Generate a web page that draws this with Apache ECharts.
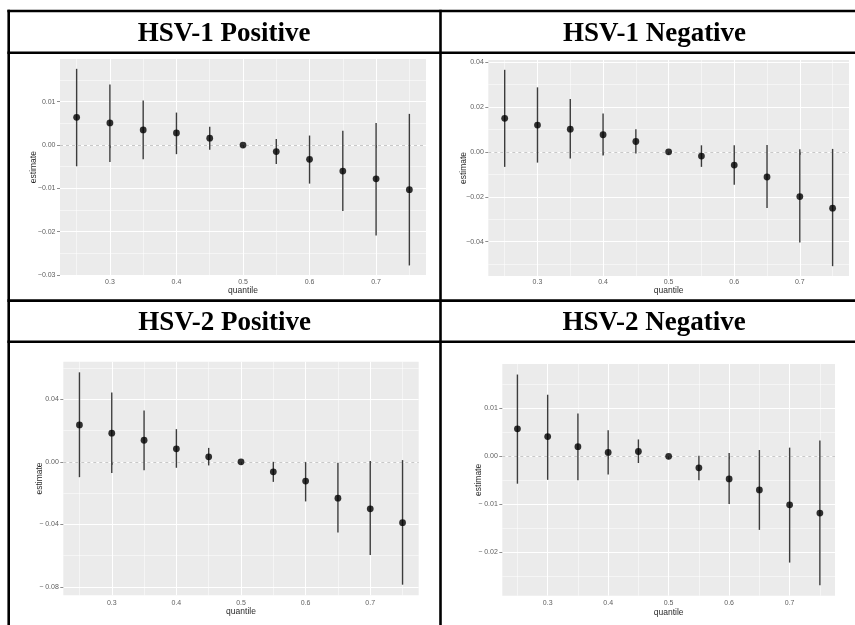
<!DOCTYPE html>
<html>
<head>
<meta charset="utf-8">
<style>
  html, body { margin: 0; padding: 0; background: #ffffff; }
  #chart { width: 855px; height: 625px; }
</style>
<script src="https://cdn.jsdelivr.net/npm/echarts@6/dist/echarts.min.js"></script>
</head>
<body>
<div id="chart"></div>
<script>
// ---- data ----
const quantiles = [0.25, 0.30, 0.35, 0.40, 0.45, 0.50, 0.55, 0.60, 0.65, 0.70, 0.75];
const xTicks = [0.3, 0.4, 0.5, 0.6, 0.7];
const xMinor = [0.25, 0.35, 0.45, 0.55, 0.65, 0.75];

const panelTitles = ['HSV-1 Positive', 'HSV-1 Negative', 'HSV-2 Positive', 'HSV-2 Negative'];

// HSV-1 Positive
const hsv1PosEst  = [0.0064, 0.0051, 0.0035, 0.0028, 0.0016, 0, -0.0015, -0.0033, -0.0060, -0.0078, -0.0103];
const hsv1PosLow  = [-0.0049, -0.0039, -0.0033, -0.0021, -0.0011, 0, -0.0044, -0.0089, -0.0152, -0.0209, -0.0278];
const hsv1PosHigh = [0.0176, 0.0140, 0.0103, 0.0075, 0.0042, 0, 0.0014, 0.0022, 0.0033, 0.0051, 0.0072];
const hsv1PosYTicks = [-0.03, -0.02, -0.01, 0.00, 0.01];
const hsv1PosYMinor = [-0.025, -0.015, -0.005, 0.005, 0.015];

// HSV-1 Negative
const hsv1NegEst  = [0.0149, 0.0119, 0.0101, 0.0076, 0.0046, 0, -0.0019, -0.0059, -0.0112, -0.0199, -0.0251];
const hsv1NegLow  = [-0.0067, -0.0048, -0.0030, -0.0016, -0.0007, 0, -0.0067, -0.0147, -0.0250, -0.0404, -0.0509];
const hsv1NegHigh = [0.0365, 0.0287, 0.0235, 0.0171, 0.0100, 0, 0.0029, 0.0029, 0.0030, 0.0011, 0.0013];
const hsv1NegYTicks = [-0.04, -0.02, 0.00, 0.02, 0.04];
const hsv1NegYMinor = [-0.05, -0.03, -0.01, 0.01, 0.03];

// HSV-2 Positive
const hsv2PosEst  = [0.0236, 0.0183, 0.0138, 0.0083, 0.0032, 0, -0.0064, -0.0123, -0.0232, -0.0300, -0.0389];
const hsv2PosLow  = [-0.0098, -0.0072, -0.0053, -0.0038, -0.0023, 0, -0.0128, -0.0253, -0.0451, -0.0596, -0.0785];
const hsv2PosHigh = [0.0572, 0.0443, 0.0328, 0.0209, 0.0089, 0, 0.0000, -0.0002, -0.0006, 0.0006, 0.0011];
const hsv2PosYTicks = [-0.08, -0.04, 0.00, 0.04];
const hsv2PosYMinor = [-0.06, -0.02, 0.02, 0.06];

// HSV-2 Negative
const hsv2NegEst  = [0.0057, 0.0041, 0.0020, 0.0008, 0.0010, 0, -0.0024, -0.0047, -0.0070, -0.0101, -0.0118];
const hsv2NegLow  = [-0.0057, -0.0049, -0.0050, -0.0038, -0.0014, 0, -0.0050, -0.0099, -0.0153, -0.0221, -0.0268];
const hsv2NegHigh = [0.0170, 0.0128, 0.0089, 0.0054, 0.0035, 0, 0.0001, 0.0007, 0.0013, 0.0018, 0.0033];
const hsv2NegYTicks = [-0.02, -0.01, 0.00, 0.01];
const hsv2NegYMinor = [-0.025, -0.015, -0.005, 0.005, 0.015];

const panels = [
  { est: hsv1PosEst, low: hsv1PosLow, high: hsv1PosHigh, yTicks: hsv1PosYTicks, yMinor: hsv1PosYMinor },
  { est: hsv1NegEst, low: hsv1NegLow, high: hsv1NegHigh, yTicks: hsv1NegYTicks, yMinor: hsv1NegYMinor },
  { est: hsv2PosEst, low: hsv2PosLow, high: hsv2PosHigh, yTicks: hsv2PosYTicks, yMinor: hsv2PosYMinor },
  { est: hsv2NegEst, low: hsv2NegLow, high: hsv2NegHigh, yTicks: hsv2NegYTicks, yMinor: hsv2NegYMinor }
];

// ---- layout ----
const layout = [
  { grid: { left: 60,    top: 59,    width: 366,   height: 216.3 }, head: [224,   33.7],  yGap: 22, xGap: 10.5, xMargin: 3, yMargin: 4.5, spaced: false },
  { grid: { left: 488.3, top: 60,    width: 360.7, height: 216   }, head: [654.5, 33.7],  yGap: 20, xGap: 10.5, xMargin: 3, yMargin: 4.5, spaced: false },
  { grid: { left: 63.3,  top: 361.7, width: 355.4, height: 233.6 }, head: [224.5, 323.3], yGap: 19, xGap: 12,   xMargin: 4, yMargin: 4.5, spaced: true },
  { grid: { left: 502.3, top: 364,   width: 332.7, height: 231.7 }, head: [654.2, 323.3], yGap: 19, xGap: 12,   xMargin: 4, yMargin: 4.5, spaced: true }
];

const SANS = 'Liberation Sans, Arial, sans-serif';
const tickLabelStyle = { fontSize: 7, color: '#606060', fontFamily: SANS };
const nameStyle = { fontSize: 8.5, color: '#2a2a2a', fontFamily: SANS };

const option = { animation: false, grid: [], xAxis: [], yAxis: [], series: [], graphic: [] };

panels.forEach((p, i) => {
  const L = layout[i];
  // ggplot-style 5% expansion of the data range
  const lo = Math.min(...p.low), hi = Math.max(...p.high);
  const pad = (hi - lo) * 0.05;
  const yMin = lo - pad, yMax = hi + pad;
  const xMin = 0.225, xMax = 0.775;

  const fmtY = v => {
    const s = Math.abs(v).toFixed(2);
    if (v < -1e-9) return (L.spaced ? '\u2212 ' : '\u2212') + s;
    return s;
  };

  option.grid.push(Object.assign({ show: true, backgroundColor: '#ebebeb', borderWidth: 0, containLabel: false }, L.grid));

  // major x axis
  option.xAxis.push({
    type: 'value', gridIndex: i, min: xMin, max: xMax, position: 'bottom',
    axisLine: { show: false },
    axisTick: { show: true, length: 3, customValues: xTicks, lineStyle: { color: '#707070', width: 0.8 } },
    axisLabel: { customValues: xTicks, formatter: v => v.toFixed(1), margin: L.xMargin, ...tickLabelStyle },
    splitLine: { show: true, lineStyle: { color: '#ffffff', width: 1.1 } },
    name: 'quantile', nameLocation: 'middle', nameGap: L.xGap, nameMoveOverlap: false, nameTextStyle: nameStyle
  });
  // minor x grid
  option.xAxis.push({
    type: 'value', gridIndex: i, min: xMin, max: xMax, position: 'top',
    axisLine: { show: false },
    axisTick: { show: false, customValues: xMinor },
    axisLabel: { show: false },
    splitLine: { show: true, lineStyle: { color: '#ffffff', width: 0.5 } }
  });
  // major y axis
  option.yAxis.push({
    type: 'value', gridIndex: i, min: yMin, max: yMax, position: 'left',
    axisLine: { show: false },
    axisTick: { show: true, length: 3, customValues: p.yTicks, lineStyle: { color: '#707070', width: 0.8 } },
    axisLabel: { customValues: p.yTicks, formatter: fmtY, margin: L.yMargin, ...tickLabelStyle },
    splitLine: { show: true, lineStyle: { color: '#ffffff', width: 1.1 } },
    name: 'estimate', nameLocation: 'middle', nameRotate: 90, nameGap: L.yGap, nameMoveOverlap: false,
    nameTextStyle: nameStyle
  });
  // minor y grid
  option.yAxis.push({
    type: 'value', gridIndex: i, min: yMin, max: yMax, position: 'right',
    axisLine: { show: false },
    axisTick: { show: false, customValues: p.yMinor },
    axisLabel: { show: false },
    splitLine: { show: true, lineStyle: { color: '#ffffff', width: 0.5 } }
  });

  // confidence intervals
  option.series.push({
    type: 'custom', xAxisIndex: 2 * i, yAxisIndex: 2 * i, z: 2,
    data: quantiles.map((q, k) => [q, p.low[k], p.high[k]]),
    encode: { x: 0, y: [1, 2] },
    renderItem: (params, api) => {
      const a = api.coord([api.value(0), api.value(1)]);
      const b = api.coord([api.value(0), api.value(2)]);
      return { type: 'line', shape: { x1: a[0], y1: a[1], x2: b[0], y2: b[1] },
               style: { stroke: '#3c3c3c', lineWidth: 1.4 } };
    },
    markLine: {
      silent: true, symbol: 'none', z: 1, label: { show: false },
      lineStyle: { type: [3, 3], color: '#c2c2c2', width: 0.9 },
      data: [{ yAxis: 0 }]
    }
  });
  // point estimates
  option.series.push({
    type: 'scatter', xAxisIndex: 2 * i, yAxisIndex: 2 * i, z: 3,
    symbolSize: 6.8, itemStyle: { color: '#000000' },
    data: quantiles.map((q, k) => [q, p.est[k]])
  });

  // panel header
  option.graphic.push({
    type: 'text', x: L.head[0], y: L.head[1], z: 10,
    style: { text: panelTitles[i], font: 'bold 27px "Liberation Serif", "Times New Roman", serif',
             fill: '#000000', align: 'center', verticalAlign: 'middle' }
  });
});

// table rules
const rule = (x1, y1, x2, y2) => ({
  type: 'line', z: 10, shape: { x1, y1, x2, y2 }, style: { stroke: '#000000', lineWidth: 2.6 }
});
option.graphic.push(
  rule(7.4, 11, 855, 11),
  rule(7.4, 52.8, 855, 52.8),
  rule(7.4, 300.6, 855, 300.6),
  rule(7.4, 341.8, 855, 341.8),
  rule(8.7, 9.7, 8.7, 625),
  rule(440.5, 9.7, 440.5, 625)
);

const chart = echarts.init(document.getElementById('chart'), null, { renderer: 'canvas' });
chart.setOption(option);
</script>
</body>
</html>
